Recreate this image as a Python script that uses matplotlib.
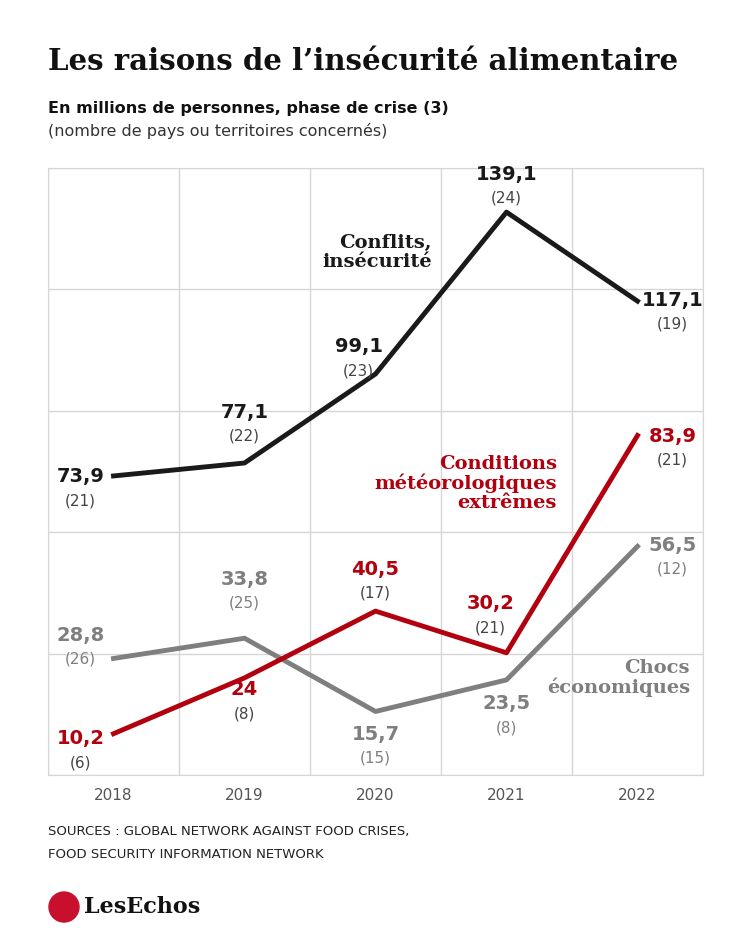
import matplotlib
matplotlib.use("Agg")
import matplotlib.pyplot as plt
from matplotlib.patches import Ellipse

years = ["2018", "2019", "2020", "2021", "2022"]
conflits = [73.9, 77.1, 99.1, 139.1, 117.1]
conflits_n = [21, 22, 23, 24, 19]
meteo = [10.2, 24, 40.5, 30.2, 83.9]
meteo_n = [6, 8, 17, 21, 21]
chocs = [28.8, 33.8, 15.7, 23.5, 56.5]
chocs_n = [26, 25, 15, 8, 12]

BLACK, RED, GRAY = "#1a1a1a", "#b3000f", "#7f7f7f"
SERIF = "DejaVu Serif"
fig = plt.figure(figsize=(7.5, 9.38), dpi=100)
ax = fig.add_axes([48/750, 163/938, 655/750, 607/938])
x = list(range(len(years)))
ax.set_xlim(-0.5, 4.5)
ax.set_ylim(0, 150)
ax.set_xticks([i - 0.5 for i in range(6)], minor=False)
ax.set_xticklabels([])
ax.set_xticks(x, minor=True)
ax.set_xticklabels(years, minor=True, color="#555555", fontsize=11)
ax.tick_params(which="both", length=0, pad=9)
ax.set_yticks(range(0, 151, 30))
ax.set_yticklabels([])
ax.grid(True, which="major", color="#d6d6d6", lw=1)
for s in ax.spines.values():
    s.set_color("#d6d6d6")

ax.plot(x, chocs, color=GRAY, lw=3.5, zorder=3)
ax.plot(x, meteo, color=RED, lw=3.5, zorder=4)
ax.plot(x, conflits, color=BLACK, lw=3.5, zorder=5)

def fmt(v):
    return (f"{v:.1f}" if v != int(v) else str(int(v))).replace(".", ",")

def lab(vals, ns, offs, color, ncolor="#444444"):
    for i, (v, n, (dx, dy)) in enumerate(zip(vals, ns, offs)):
        ax.annotate(fmt(v), (i, v), xytext=(dx*0.72, -dy*0.72), textcoords="offset points",
                    ha="center", va="center", fontsize=14, fontweight="bold", color=color, zorder=6)
        ax.annotate(f"({n})", (i, v), xytext=(dx*0.72, -(dy+24)*0.72), textcoords="offset points",
                    ha="center", va="center", fontsize=11, color=ncolor, zorder=6)

lab(conflits, conflits_n, [(-33, 1), (0, -51), (-17, -27), (0, -38), (35, -1)], BLACK)
lab(meteo, meteo_n, [(-33, 5), (0, 12), (0, -42), (-16, -49), (35, 1)], RED)
lab(chocs, chocs_n, [(-33, -23), (0, -59), (0, 23), (0, 24), (35, -1)], GRAY, GRAY)

def y_of(py):
    return (776 - py) / 4.05
def x_of(px):
    return (px - 48) / 131 - 0.5

kw = dict(ha="right", va="center", fontsize=14, fontweight="bold", family=SERIF, linespacing=1.05)
ax.text(x_of(432), y_of(253), "Conflits,\ninsécurité", color=BLACK, **kw)
ax.text(x_of(557), y_of(484), "Conditions\nmétéorologiques\nextrêmes", color=RED, **kw)
ax.text(x_of(690), y_of(679), "Chocs\néconomiques", color=GRAY, **kw)

fig.text(48/750, 1-62/938, "Les raisons de l’insécurité alimentaire", fontsize=21,
         fontweight="bold", family=SERIF, va="center", color="#111111")
fig.text(48/750, 1-108/938, "En millions de personnes, phase de crise (3)", fontsize=11.5,
         fontweight="bold", va="center", color="#111111")
fig.text(48/750, 1-131/938, "(nombre de pays ou territoires concernés)", fontsize=11.5,
         va="center", color="#333333")
fig.text(48/750, 1-831/938, "SOURCES : GLOBAL NETWORK AGAINST FOOD CRISES,", fontsize=9.5,
         va="center", color="#222222")
fig.text(48/750, 1-854/938, "FOOD SECURITY INFORMATION NETWORK", fontsize=9.5,
         va="center", color="#222222")
fig.patches.append(Ellipse((64/750, 1-907/938), 30/750, 30/938, transform=fig.transFigure,
                           color="#c8102e", figure=fig))
fig.text(84/750, 1-907/938, "LesEchos", fontsize=16, fontweight="bold",
         family=SERIF, va="center", color="#111111")
fig.savefig("out.png", dpi=100, facecolor="white")
